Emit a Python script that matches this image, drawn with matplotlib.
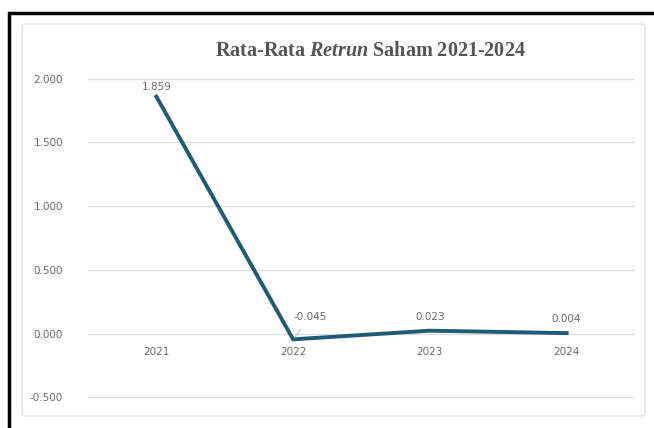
import matplotlib.pyplot as plt
from matplotlib.patches import FancyBboxPatch, Rectangle

# data
years = ["2021", "2022", "2023", "2024"]
retrun = [1.859, -0.045, 0.023, 0.004]
label_txt = ["1.859", "-0.045", "0.023", "0.004"]
yticks = [-0.5, 0.0, 0.5, 1.0, 1.5, 2.0]

plt.rcParams['mathtext.fontset'] = 'custom'
plt.rcParams['mathtext.rm'] = 'Liberation Serif:bold'
plt.rcParams['mathtext.it'] = 'Liberation Serif:italic:bold'

fig = plt.figure(figsize=(6.54, 4.28), dpi=100)
W, H = 654, 428

# outer black frame (cut off at right/bottom) and inner chart box
fig.patches.append(Rectangle((9 / W, -0.1), 1.2, 1 - 13 / H + 0.1, transform=fig.transFigure,
                             fill=False, edgecolor='black', linewidth=2.5, zorder=-2))
fig.patches.append(FancyBboxPatch((22 / W, 1 - 416 / H), (645 - 22) / W, (416 - 24) / H,
                                  boxstyle="round,pad=0,rounding_size=0.006",
                                  transform=fig.transFigure, facecolor='white',
                                  edgecolor='#e3e3e3', linewidth=1.0, zorder=-1))

ax = fig.add_axes([88 / W, 1 - 398 / H, (635 - 88) / W, (398 - 78) / H])
ax.set_zorder(2)
ax.set_facecolor('none')
x = list(range(len(years)))
ax.plot(x, retrun, color='#1f5a76', linewidth=2.8, solid_joinstyle='miter', zorder=3)

ax.set_xlim(-0.5, 3.5)
ax.set_ylim(-0.505, 2.005)
ax.set_yticks(yticks)
ax.set_yticklabels([f"{v:.3f}" for v in yticks], color='#6b6b6b', fontsize=7.5)
ax.tick_params(axis='y', length=0, pad=18)
ax.set_xticks([])
for s in ax.spines.values():
    s.set_visible(False)
ax.grid(axis='y', color='#dedede', linewidth=0.9)
ax.set_axisbelow(True)

# category labels sit just under the zero line
for i, yr in enumerate(years):
    ax.annotate(yr, (i, 0), xytext=(0, -13), textcoords='offset points',
                ha='center', va='center', color='#6b6b6b', fontsize=7.5)

# data labels
offs = [(0, 7), (12, 16), (0, 10), (0, 10)]
for i, (v, t) in enumerate(zip(retrun, label_txt)):
    if i == 1:
        ax.annotate(t, (i, v), xytext=offs[i], textcoords='offset points',
                    ha='center', va='center', color='#6b6b6b', fontsize=7.5,
                    arrowprops=dict(arrowstyle='-', color='#bdbdbd', lw=0.7,
                                    shrinkA=4, shrinkB=2))
    else:
        ax.annotate(t, (i, v), xytext=offs[i], textcoords='offset points',
                    ha='center', va='center', color='#6b6b6b', fontsize=7.5)

fig.text(370 / W, 1 - 51 / H, r"Rata-Rata $\mathit{Retrun}$ Saham 2021-2024",
         ha='center', va='center', fontsize=14.5, color='#555555',
         family='Liberation Serif', weight='bold')

fig.savefig("out.png", dpi=100)
